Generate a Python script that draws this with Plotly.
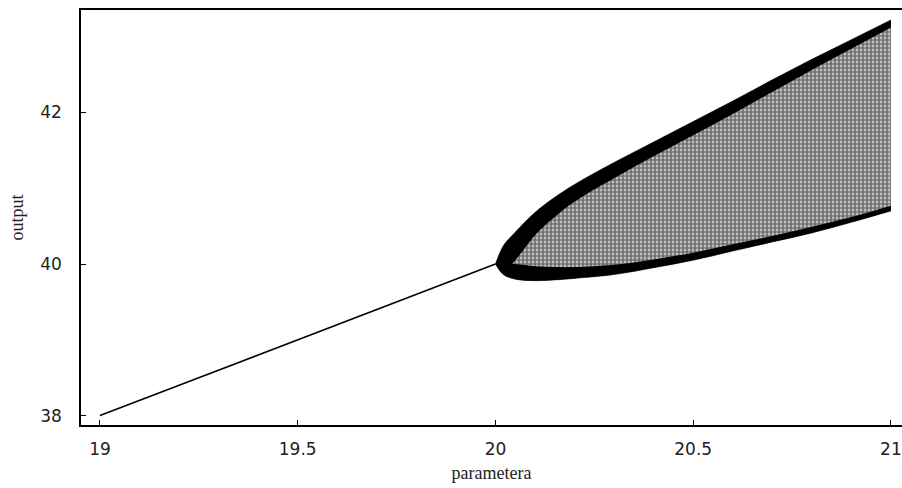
import plotly.graph_objects as go

# Stable branch (before the bifurcation)
stable_param = [19.0, 20.0]
stable_output = [38.0, 40.0]

# Oscillating branch (after the bifurcation): envelopes
branch_param = [20.0, 20.02, 20.05, 20.1, 20.15, 20.2, 20.3, 20.4, 20.5, 20.6, 20.7, 20.8, 20.9, 21.0]
upper_env = [40.0, 40.24, 40.42, 40.68, 40.88, 41.05, 41.34, 41.61, 41.88, 42.15, 42.43, 42.7, 42.96, 43.22]
upper_dense_edge = [40.0, 39.9, 40.05, 40.38, 40.62, 40.82, 41.13, 41.42, 41.7, 41.98, 42.27, 42.56, 42.84, 43.12]
lower_env = [40.0, 39.86, 39.8, 39.78, 39.79, 39.81, 39.86, 39.95, 40.05, 40.17, 40.29, 40.41, 40.55, 40.7]
lower_dense_edge = [40.0, 40.0, 40.0, 39.97, 39.96, 39.96, 39.99, 40.06, 40.15, 40.26, 40.37, 40.49, 40.62, 40.77]

x_ticks = [19, 19.5, 20, 20.5, 21]
x_ticktext = ["19", "19.5", "20", "20.5", "21"]
y_ticks = [38, 40, 42]
y_ticktext = ["38", "40", "42"]

fig = go.Figure()

# dotted interior of the oscillation band
fig.add_trace(go.Scatter(x=branch_param, y=lower_env, mode="lines", line_shape="spline",
                         line=dict(color="black", width=0), hoverinfo="skip"))
fig.add_trace(go.Scatter(x=branch_param, y=upper_env, mode="lines", fill="tonexty",
                         line_shape="spline", fillcolor="white",
                         fillpattern=dict(shape=".", fgcolor="black", bgcolor="#dcdcdc",
                                          size=4, solidity=0.7),
                         line=dict(color="black", width=0), hoverinfo="skip"))
# dense upper edge
fig.add_trace(go.Scatter(x=branch_param, y=upper_dense_edge, mode="lines", line_shape="spline",
                         line=dict(color="black", width=0), hoverinfo="skip"))
fig.add_trace(go.Scatter(x=branch_param, y=upper_env, mode="lines", fill="tonexty",
                         line_shape="spline", fillcolor="black",
                         line=dict(color="black", width=0.5), hoverinfo="skip"))
# dense lower edge
fig.add_trace(go.Scatter(x=branch_param, y=lower_env, mode="lines", line_shape="spline",
                         line=dict(color="black", width=0.5), hoverinfo="skip"))
fig.add_trace(go.Scatter(x=branch_param, y=lower_dense_edge, mode="lines", fill="tonexty",
                         line_shape="spline", fillcolor="black",
                         line=dict(color="black", width=0), hoverinfo="skip"))
# stable branch
fig.add_trace(go.Scatter(x=stable_param, y=stable_output, mode="lines",
                         line=dict(color="black", width=1.6), hoverinfo="skip"))

axis_font = dict(family="DejaVu Sans", size=17, color="#222")
title_font = dict(family="Liberation Serif", size=18, color="#222")
fig.update_layout(
    width=902, height=488,
    margin=dict(l=81, r=0, t=10, b=63),
    plot_bgcolor="white", paper_bgcolor="white",
    showlegend=False,
    xaxis=dict(range=[18.952, 21.028], tickvals=x_ticks, ticktext=x_ticktext,
               ticks="inside", ticklen=5, tickcolor="black", tickwidth=1,
               showline=True, linecolor="black", linewidth=1.5, mirror=True,
               showgrid=False, zeroline=False, tickfont=axis_font,
               ticklabelstandoff=8, automargin=False,
               title=dict(text="parametera", standoff=8, font=title_font)),
    yaxis=dict(range=[37.876, 43.351], tickvals=y_ticks, ticktext=y_ticktext,
               ticks="inside", ticklen=5, tickcolor="black", tickwidth=1,
               showline=True, linecolor="black", linewidth=1.5, mirror=False,
               showgrid=False, zeroline=False, tickfont=axis_font,
               ticklabelstandoff=14, automargin=False,
               title=dict(text="output", standoff=12, font=title_font)),
)

fig.write_html("out.html", post_script="document.body.style.margin='0';",
               config={"displayModeBar": False})
